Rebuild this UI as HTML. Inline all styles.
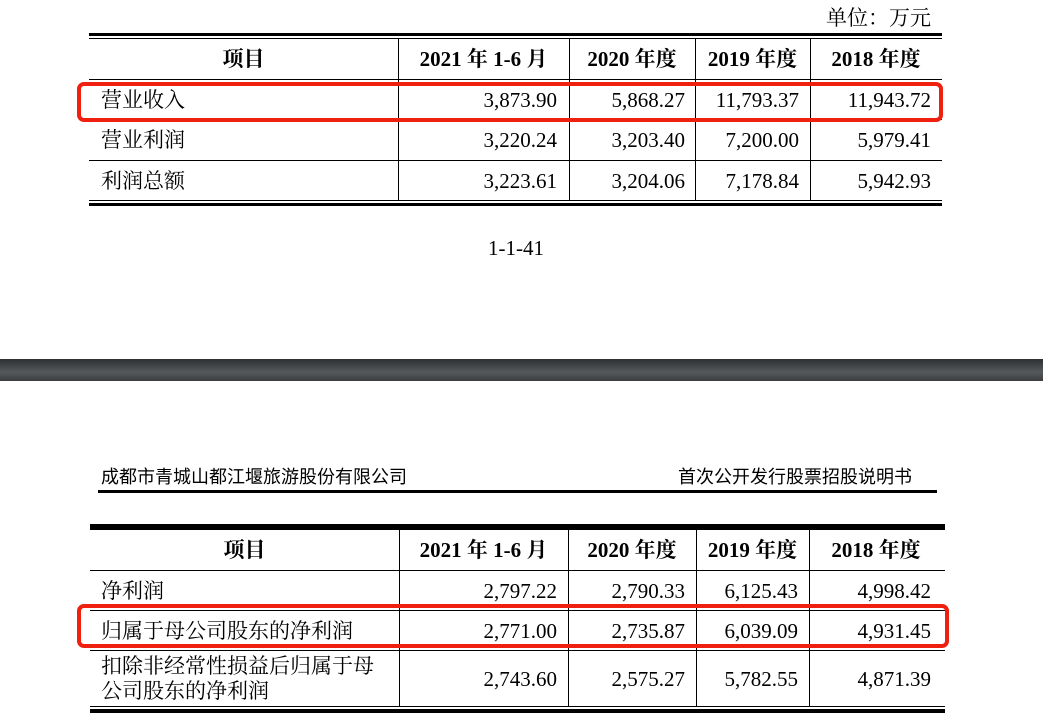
<!DOCTYPE html><html><head><meta charset="utf-8"><style>
body{margin:0;width:1043px;height:727px;background:#fff;position:relative;overflow:hidden;font-family:"Liberation Serif","Noto Serif CJK SC",serif;color:#000}
.t{position:absolute;font-size:21px;line-height:22px;white-space:nowrap}
.r{text-align:right}
.c{text-align:center;font-weight:bold}
.h{position:absolute;background:#000}
.box{position:absolute;border:4px solid #f02010;border-radius:7px;box-sizing:border-box}
.s{font-family:"Liberation Sans","Noto Sans CJK SC",sans-serif;font-size:18px}
</style></head><body>
<div class="t" style="left:826px;top:7px">单位：万元</div>
<div class="h" style="left:89px;top:33px;width:853px;height:3px"></div>
<div class="h" style="left:89px;top:38px;width:853px;height:1px"></div>
<div class="h" style="left:89px;top:79px;width:853px;height:1px"></div>
<div class="h" style="left:89px;top:119px;width:853px;height:1px"></div>
<div class="h" style="left:89px;top:160px;width:853px;height:1px"></div>
<div class="h" style="left:89px;top:200px;width:853px;height:1px"></div>
<div class="h" style="left:89px;top:203px;width:853px;height:3px"></div>
<div class="h" style="left:398px;top:38px;width:1px;height:163px"></div>
<div class="h" style="left:569px;top:38px;width:1px;height:163px"></div>
<div class="h" style="left:695px;top:38px;width:1px;height:163px"></div>
<div class="h" style="left:810px;top:38px;width:1px;height:163px"></div>
<div class="t c" style="left:89px;width:309px;top:48px">项目</div>
<div class="t c" style="left:398px;width:171px;top:48px">2021 年 1-6 月</div>
<div class="t c" style="left:569px;width:126px;top:48px">2020 年度</div>
<div class="t c" style="left:695px;width:115px;top:48px">2019 年度</div>
<div class="t c" style="left:810px;width:132px;top:48px">2018 年度</div>
<div class="t" style="left:101px;top:89px">营业收入</div>
<div class="t" style="left:101px;top:129px">营业利润</div>
<div class="t" style="left:101px;top:170px">利润总额</div>
<div class="t r" style="left:398px;width:159px;top:89px">3,873.90</div>
<div class="t r" style="left:569px;width:116px;top:89px">5,868.27</div>
<div class="t r" style="left:695px;width:104px;top:89px">11,793.37</div>
<div class="t r" style="left:810px;width:121px;top:89px">11,943.72</div>
<div class="t r" style="left:398px;width:159px;top:129px">3,220.24</div>
<div class="t r" style="left:569px;width:116px;top:129px">3,203.40</div>
<div class="t r" style="left:695px;width:104px;top:129px">7,200.00</div>
<div class="t r" style="left:810px;width:121px;top:129px">5,979.41</div>
<div class="t r" style="left:398px;width:159px;top:170px">3,223.61</div>
<div class="t r" style="left:569px;width:116px;top:170px">3,204.06</div>
<div class="t r" style="left:695px;width:104px;top:170px">7,178.84</div>
<div class="t r" style="left:810px;width:121px;top:170px">5,942.93</div>
<div class="box" style="left:77px;top:82px;width:866px;height:40px"></div>
<div class="t" style="left:488px;top:237px">1-1-41</div>
<div style="position:absolute;left:0;top:359px;width:1043px;height:22px;background:linear-gradient(#2e3133,#55595c 60%,#3a3d40)"></div>
<div class="t s" style="left:101px;top:466px">成都市青城山都江堰旅游股份有限公司</div>
<div class="t s" style="left:678px;top:466px">首次公开发行股票招股说明书</div>
<div class="h" style="left:98px;top:490px;width:839px;height:3px"></div>
<div class="h" style="left:90px;top:524px;width:855px;height:6px"></div>
<div class="h" style="left:90px;top:570px;width:855px;height:1px"></div>
<div class="h" style="left:90px;top:610px;width:855px;height:1px"></div>
<div class="h" style="left:90px;top:650px;width:855px;height:1px"></div>
<div class="h" style="left:90px;top:706px;width:855px;height:1px"></div>
<div class="h" style="left:90px;top:709px;width:855px;height:4px"></div>
<div class="h" style="left:399px;top:530px;width:1px;height:177px"></div>
<div class="h" style="left:568px;top:530px;width:1px;height:177px"></div>
<div class="h" style="left:696px;top:530px;width:1px;height:177px"></div>
<div class="h" style="left:809px;top:530px;width:1px;height:177px"></div>
<div class="t c" style="left:90px;width:309px;top:539px">项目</div>
<div class="t c" style="left:399px;width:169px;top:539px">2021 年 1-6 月</div>
<div class="t c" style="left:568px;width:128px;top:539px">2020 年度</div>
<div class="t c" style="left:696px;width:113px;top:539px">2019 年度</div>
<div class="t c" style="left:809px;width:134px;top:539px">2018 年度</div>
<div class="t" style="left:101px;top:580px">净利润</div>
<div class="t" style="left:101px;top:620px">归属于母公司股东的净利润</div>
<div class="t" style="left:101px;top:655px">扣除非经常性损益后归属于母</div>
<div class="t" style="left:101px;top:680px">公司股东的净利润</div>
<div class="t r" style="left:399px;width:158px;top:580px">2,797.22</div>
<div class="t r" style="left:568px;width:117px;top:580px">2,790.33</div>
<div class="t r" style="left:696px;width:102px;top:580px">6,125.43</div>
<div class="t r" style="left:809px;width:122px;top:580px">4,998.42</div>
<div class="t r" style="left:399px;width:158px;top:620px">2,771.00</div>
<div class="t r" style="left:568px;width:117px;top:620px">2,735.87</div>
<div class="t r" style="left:696px;width:102px;top:620px">6,039.09</div>
<div class="t r" style="left:809px;width:122px;top:620px">4,931.45</div>
<div class="t r" style="left:399px;width:158px;top:668px">2,743.60</div>
<div class="t r" style="left:568px;width:117px;top:668px">2,575.27</div>
<div class="t r" style="left:696px;width:102px;top:668px">5,782.55</div>
<div class="t r" style="left:809px;width:122px;top:668px">4,871.39</div>
<div class="box" style="left:77px;top:604px;width:872px;height:44px"></div>
</body></html>
